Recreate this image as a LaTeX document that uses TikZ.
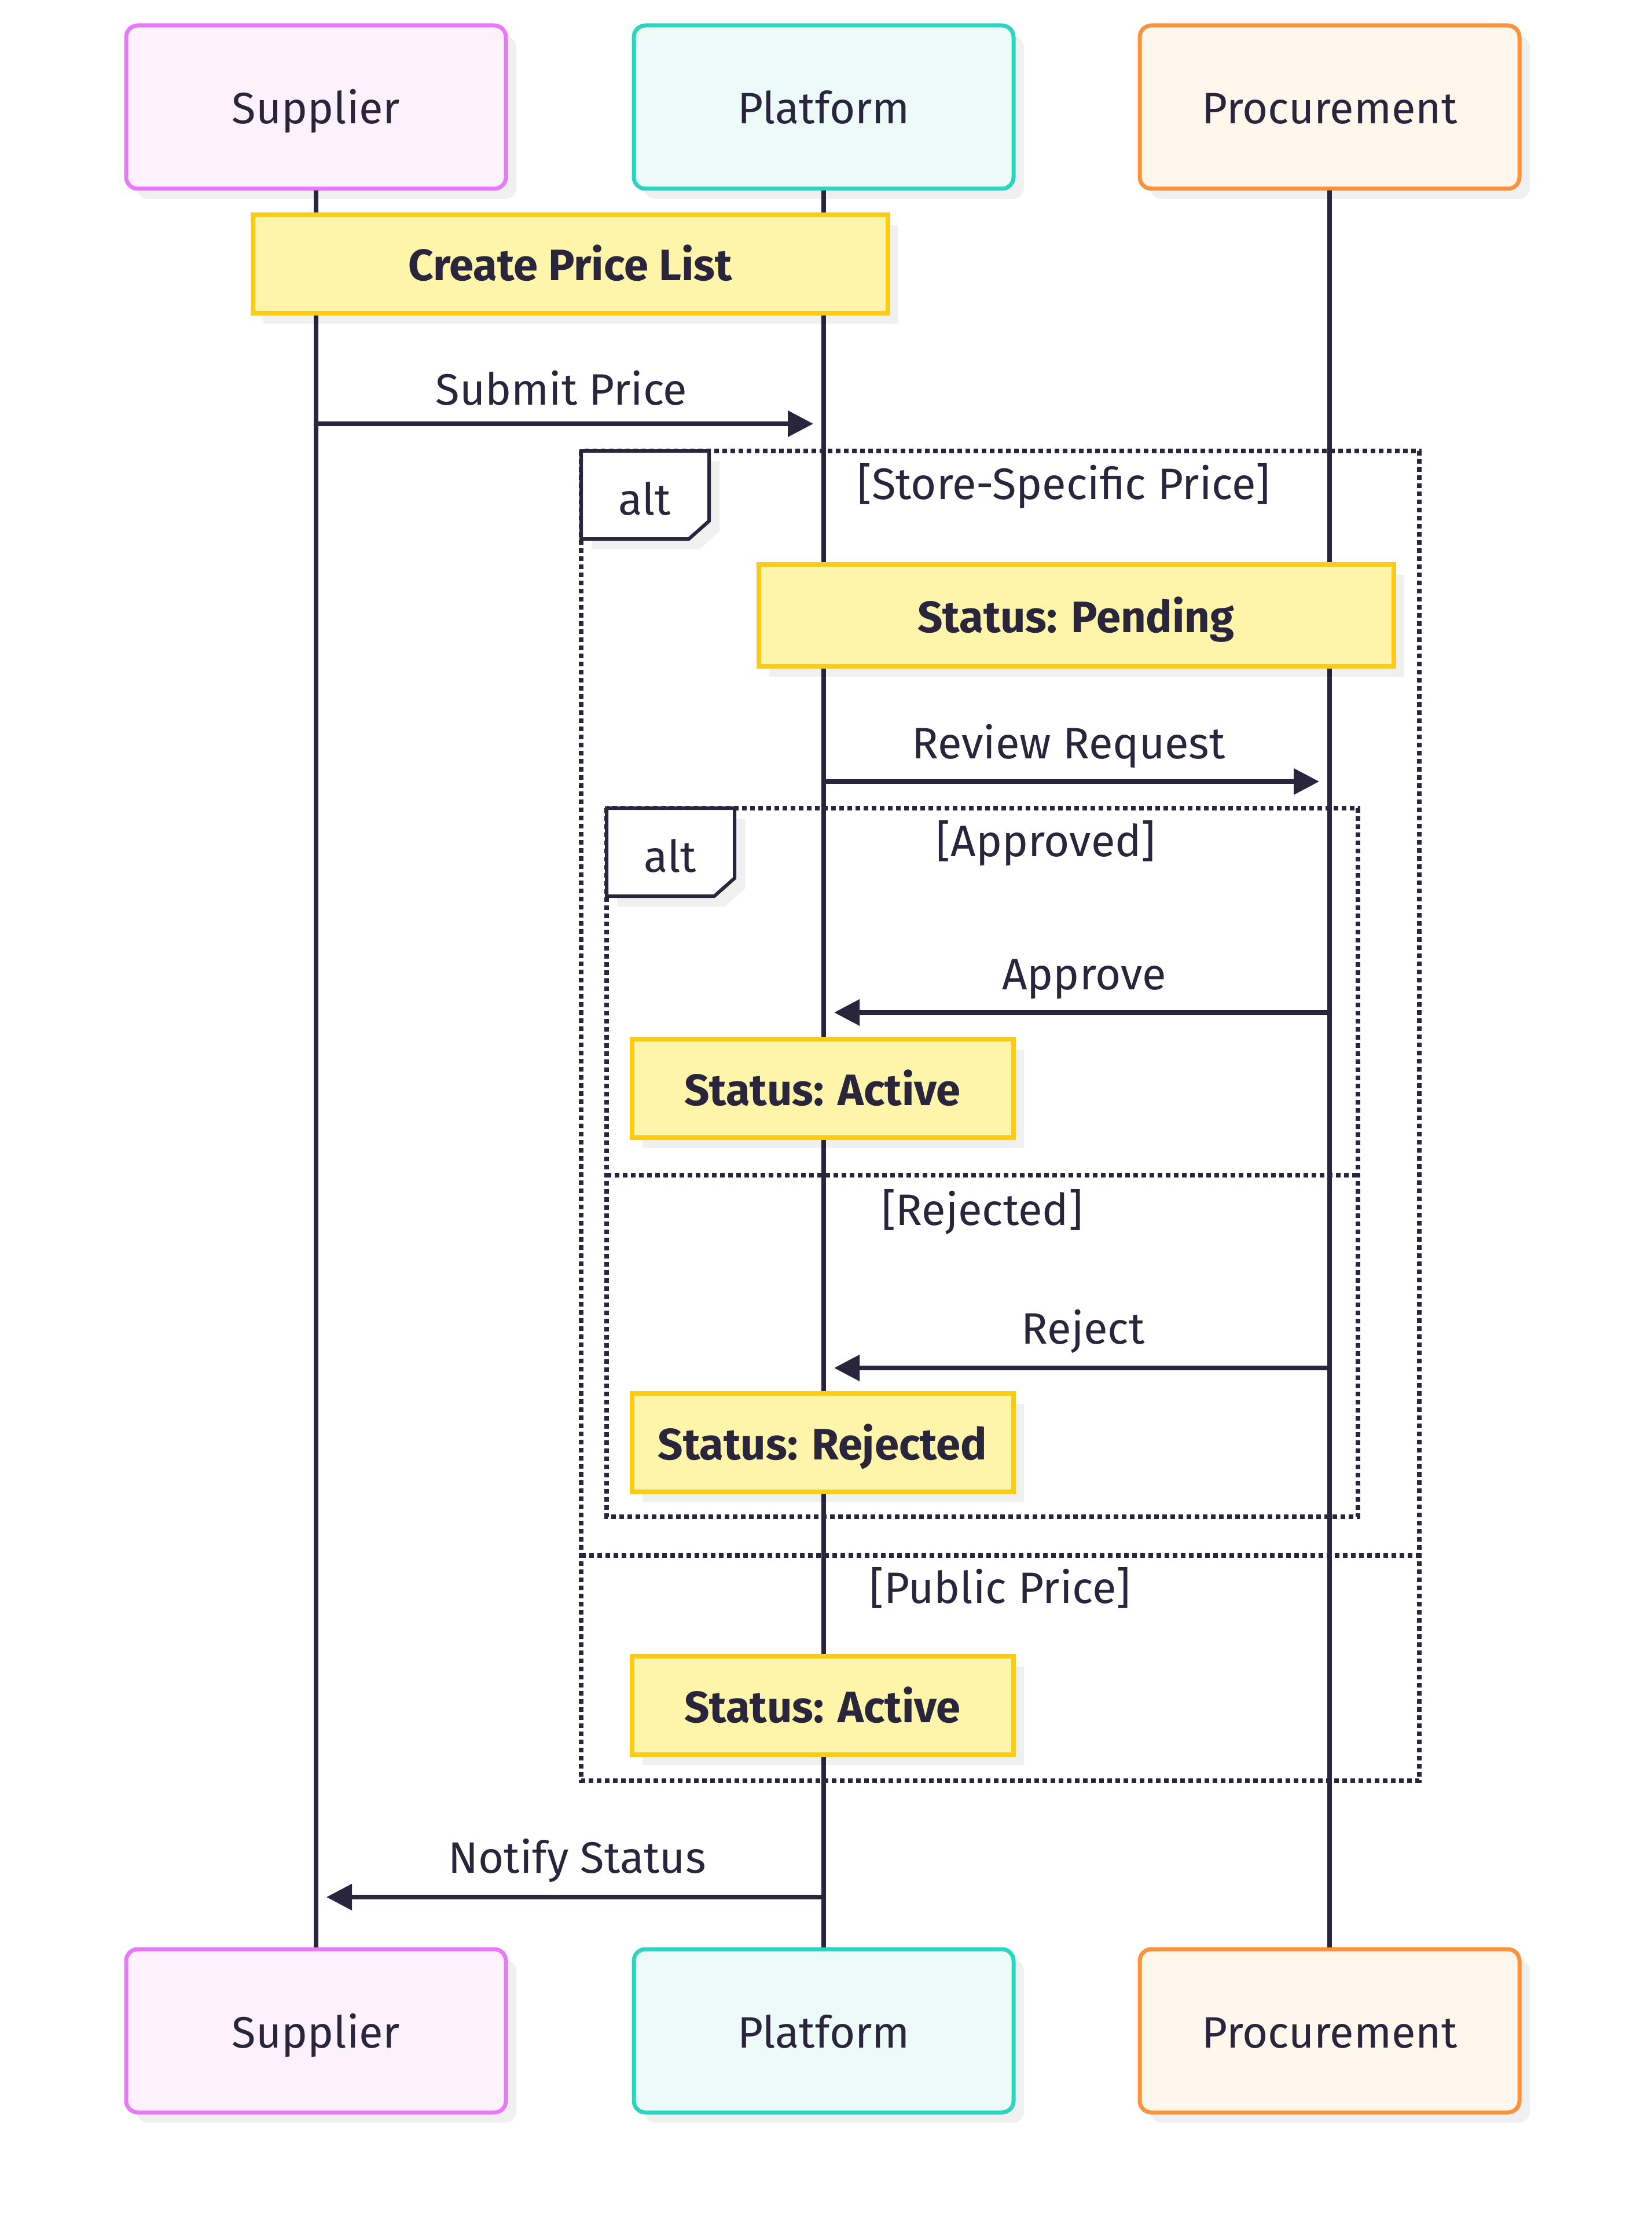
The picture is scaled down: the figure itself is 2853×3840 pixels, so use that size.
\documentclass[tikz,border=0pt]{standalone}
\usepackage{fontspec}
\setmainfont{Fira Sans}
\usetikzlibrary{arrows.meta,shadows}
\definecolor{ink}{HTML}{28253D}
\definecolor{supfill}{HTML}{FDF1FD}
\definecolor{supline}{HTML}{E879F9}
\definecolor{platfill}{HTML}{EDFBF8}
\definecolor{platline}{HTML}{2DD4BF}
\definecolor{procfill}{HTML}{FFF6EC}
\definecolor{procline}{HTML}{FB923C}
\definecolor{notefill}{HTML}{FEF4AA}
\definecolor{noteline}{HTML}{FACC15}
\tikzset{
  shad/.style={drop shadow={shadow xshift=4.5pt, shadow yshift=-4.5pt, fill=black, opacity=0.06}},
  txt/.style={font=\fontsize{19}{23}\selectfont, text height=18pt, text depth=3.5pt},
  actor/.style={draw, line width=1.75pt, rounded corners=5pt, minimum width=164pt, minimum height=70.5pt, shad, txt},
  notebox/.style={draw=noteline, fill=notefill, line width=2pt, minimum height=42.5pt, shad, txt, font=\fontsize{19}{23}\selectfont\bfseries},
  lifeline/.style={draw=ink, line width=2pt},
  msg/.style={draw=ink, line width=1.9pt, shorten >=4.5pt, -{Triangle[length=11pt,width=11pt]}},
  lbl/.style={txt, text=ink},
  framest/.style={draw=ink, line width=2pt, dash pattern=on 2pt off 1.5pt},
  tabst/.style={draw=ink, line width=1.5pt, fill=white, shad},
}
\begin{document}
\begin{tikzpicture}[x=0.25pt, y=-0.25pt, text=ink]
\useasboundingbox[fill=white] (0,0) rectangle (2853,3840);
% actors
\node[actor, fill=supfill, draw=supline] (supT) at (546,185) {Supplier};
\node[actor, fill=platfill, draw=platline] (platT) at (1423,185) {Platform};
\node[actor, fill=procfill, draw=procline] (procT) at (2297,185) {Procurement};
\node[actor, fill=supfill, draw=supline] (supB) at (546,3508) {Supplier};
\node[actor, fill=platfill, draw=platline] (platB) at (1423,3508) {Platform};
\node[actor, fill=procfill, draw=procline] (procB) at (2297,3508) {Procurement};
% lifelines
\draw[lifeline] (supT.south) -- (supB.north);
\draw[lifeline] (platT.south) -- (platB.north);
\draw[lifeline] (procT.south) -- (procB.north);
% note
\node[notebox, minimum width=274.25pt] (n1) at (985,456) {Create Price List};
% submit price
\coordinate (m1s) at (546,732);
\coordinate (m1e) at (1423,732);
\draw[msg] (m1s) -- (m1e);
\node[lbl] (l1) at (970,671) {Submit Price};
% outer alt
\draw[framest] (1004,779) rectangle (2452,3076);
\draw[framest] (1004,2687) -- (2452,2687);
\draw[tabst] (1004,779) -- (1225,779) -- (1225,900) -- (1190,931) -- (1004,931) -- cycle;
\node[lbl] (alt1) at (1114,860) {alt};
\node[lbl] (c1) at (1838,833) {[Store-Specific Price]};
\node[notebox, minimum width=274.25pt, minimum height=44pt] (n2) at (1859,1063) {Status: Pending};
% review request
\coordinate (m2s) at (1423,1350);
\coordinate (m2e) at (2297,1350);
\draw[msg] (m2s) -- (m2e);
\node[lbl] (l2) at (1846,1281) {Review Request};
% inner alt
\draw[framest] (1048,1396) rectangle (2346,2620);
\draw[framest] (1048,2030) -- (2346,2030);
\draw[tabst] (1048,1396) -- (1269,1396) -- (1269,1517) -- (1234,1548) -- (1048,1548) -- cycle;
\node[lbl] (alt2) at (1158,1477) {alt};
\node[lbl] (c2) at (1807,1450) {[Approved]};
% approve
\coordinate (m3s) at (2297,1749);
\coordinate (m3e) at (1423,1749);
\draw[msg] (m3s) -- (m3e);
\node[lbl] (l3) at (1873,1680) {Approve};
\node[notebox, minimum width=164.75pt] (n3) at (1421,1880) {Status: Active};
\node[lbl] (c3) at (1697,2087) {[Rejected]};
% reject
\coordinate (m4s) at (2297,2363);
\coordinate (m4e) at (1423,2363);
\draw[msg] (m4s) -- (m4e);
\node[lbl] (l4) at (1871,2292) {Reject};
\node[notebox, minimum width=164.75pt] (n4) at (1421,2492) {Status: Rejected};
% public price
\node[lbl] (c4) at (1728,2740) {[Public Price]};
\node[notebox, minimum width=164.75pt] (n5) at (1421,2946) {Status: Active};
% notify
\coordinate (m5s) at (1423,3277);
\coordinate (m5e) at (546,3277);
\draw[msg] (m5s) -- (m5e);
\node[lbl] (l5) at (997,3206) {Notify Status};
\end{tikzpicture}
\end{document}
